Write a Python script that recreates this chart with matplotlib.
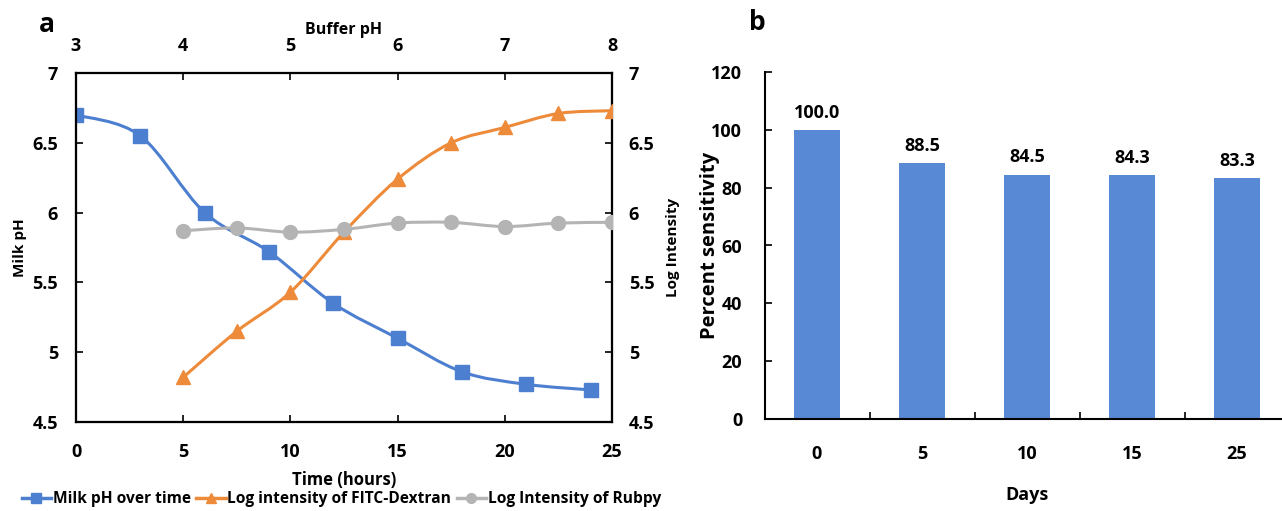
import numpy as np
import matplotlib.pyplot as plt
from matplotlib.path import Path
from matplotlib.patches import PathPatch
from matplotlib.lines import Line2D

plt.rcParams['font.family'] = ['Open Sans', 'DejaVu Sans']
plt.rcParams['font.weight'] = 'bold'
plt.rcParams['axes.labelweight'] = 'bold'

# ---- panel a data
time_hours = [0, 3, 6, 9, 12, 15, 18, 21, 24]
milk_ph = [6.70, 6.55, 6.00, 5.72, 5.35, 5.10, 4.86, 4.77, 4.73]
buffer_ph = [4.0, 4.5, 5.0, 5.5, 6.0, 6.5, 7.0, 7.5, 8.0]
fitc_log = [4.82, 5.15, 5.43, 5.86, 6.24, 6.50, 6.61, 6.71, 6.73]
rubpy_log = [5.87, 5.89, 5.86, 5.88, 5.925, 5.93, 5.90, 5.925, 5.93]

# ---- panel b data
days = ['0', '5', '10', '15', '25']
sensitivity = [100.0, 88.5, 84.5, 84.3, 83.3]

blue = '#4d7fd0'
orange = '#ee8b3a'
grey = '#b4b4b4'
bar_blue = '#5889d4'
FS = 13


def smooth_path(x, y):
    # excel-like smoothed line: catmull-rom turned into cubic bezier segments
    pts = np.column_stack([x, y]).astype(float)
    ext = np.vstack([pts[0], pts, pts[-1]])
    verts = [pts[0]]
    codes = [Path.MOVETO]
    for i in range(len(pts) - 1):
        p0, p1, p2, p3 = ext[i], ext[i + 1], ext[i + 2], ext[i + 3]
        verts += [p1 + (p2 - p0) / 6, p2 - (p3 - p1) / 6, p2]
        codes += [Path.CURVE4] * 3
    return Path(verts, codes)


def bold(labels):
    for t in labels:
        t.set_fontweight('bold')


fig = plt.figure(figsize=(12.82, 5.11), dpi=100)

W, H = 1282, 511
ax = fig.add_axes([76 / W, (H - 422) / H, 536 / W, 349 / H])
ax2 = ax.twinx()
ax3 = ax2.twiny()

# milk pH vs time
ax.add_patch(PathPatch(smooth_path(time_hours, milk_ph), fill=False,
                       edgecolor=blue, lw=2.2, transform=ax.transData, zorder=2))
ax.plot(time_hours, milk_ph, 's', color=blue, ms=10, zorder=3)

# intensities vs buffer pH
ax3.add_patch(PathPatch(smooth_path(buffer_ph, fitc_log), fill=False,
                        edgecolor=orange, lw=2.2, transform=ax3.transData, zorder=2))
ax3.plot(buffer_ph, fitc_log, '^', color=orange, ms=10, zorder=3)
ax3.add_patch(PathPatch(smooth_path(buffer_ph, rubpy_log), fill=False,
                        edgecolor=grey, lw=2.2, transform=ax3.transData, zorder=4))
ax3.plot(buffer_ph, rubpy_log, 'o', color=grey, ms=10, zorder=5)

ax.set_xlim(0, 25)
ax.set_ylim(4.5, 7)
ax2.set_ylim(4.5, 7)
ax3.set_xlim(3, 8)

yt = [4.5, 5, 5.5, 6, 6.5, 7]
ytl = ['4.5', '5', '5.5', '6', '6.5', '7']
ax.set_xticks(range(0, 26, 5))
ax.set_yticks(yt)
ax.set_yticklabels(ytl)
ax2.set_yticks(yt)
ax2.set_yticklabels(ytl)
ax3.set_xticks(range(3, 9))

ax.tick_params(axis='both', direction='in', length=5, width=1.2, labelsize=FS, top=False)
ax.tick_params(axis='x', pad=15)
ax.tick_params(axis='y', pad=13)
ax2.tick_params(axis='y', direction='in', length=5, width=1.2, labelsize=FS, pad=12)
ax3.tick_params(axis='x', direction='in', length=5, width=1.2, labelsize=FS, pad=13)
bold(ax.get_xticklabels() + ax.get_yticklabels() + ax2.get_yticklabels() + ax3.get_xticklabels())

for a in (ax, ax2, ax3):
    for s in a.spines.values():
        s.set_linewidth(1.5)

ax.set_xlabel('Time (hours)', fontsize=12, labelpad=7)
ax.set_ylabel('Milk pH', fontsize=11, labelpad=4)
ax2.set_ylabel('Log Intensity', fontsize=11, labelpad=8)
ax3.set_xlabel('Buffer pH', fontsize=11.5, labelpad=2)

handles = [
    Line2D([], [], color=blue, marker='s', lw=2.5, ms=7),
    Line2D([], [], color=orange, marker='^', lw=2.5, ms=7),
    Line2D([], [], color=grey, marker='o', lw=2.5, ms=7),
]
labels = ['Milk pH over time', 'Log intensity of FITC-Dextran', 'Log Intensity of Rubpy']
leg = fig.legend(handles, labels, loc='lower left', bbox_to_anchor=(0.006, -0.02), ncol=3,
                 frameon=False, handlelength=1.9, handletextpad=0.1, columnspacing=0.35,
                 prop={'size': 11.2, 'weight': 'bold'})

fig.text(47 / W, 1 - 25 / H, 'a', fontsize=19, va='center', ha='center')
fig.text(757 / W, 1 - 22 / H, 'b', fontsize=19, va='center', ha='center')

# ---- panel b: bars
axb = fig.add_axes([764.5 / W, (H - 419) / H, 525 / W, 347 / H])
xpos = np.arange(len(days))
bars = axb.bar(xpos, sensitivity, width=0.43, color=bar_blue, zorder=2)
bar_txt = axb.bar_label(bars, fmt='%.1f', padding=6, fontsize=FS)
bold(bar_txt)
axb.set_xlim(-0.5, len(days) - 0.5)
axb.set_ylim(0, 120)
axb.set_yticks(range(0, 121, 20))
axb.set_xticks(xpos)
axb.set_xticklabels(days)
axb.set_xticks(np.arange(0.5, len(days) - 0.5, 1), minor=True)
axb.tick_params(axis='x', which='major', direction='in', length=4, width=1.2, pad=19, labelsize=FS)
axb.tick_params(axis='x', which='minor', direction='in', length=5, width=1.2)
axb.tick_params(axis='y', direction='in', length=5, width=1.2, labelsize=FS, pad=16)
bold(axb.get_xticklabels() + axb.get_yticklabels())
axb.spines['top'].set_visible(False)
axb.spines['right'].set_visible(False)
axb.spines['left'].set_linewidth(1.5)
axb.spines['bottom'].set_linewidth(1.5)
axb.set_xlabel('Days', fontsize=13, labelpad=16)
axb.set_ylabel('Percent sensitivity', fontsize=14.5)
axb.yaxis.set_label_coords(-0.085, 0.5)

fig.savefig('out.png', dpi=100)
